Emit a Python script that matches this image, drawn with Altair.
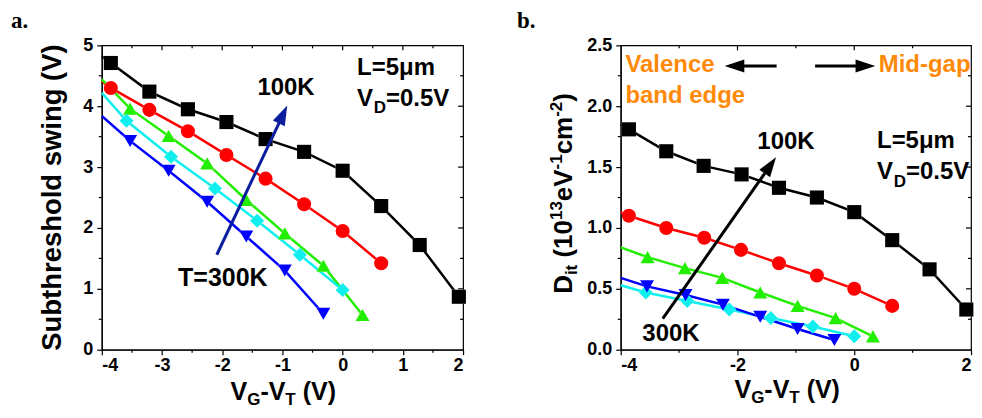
import math
import altair as alt
import pandas as pd

FONT = "Liberation Sans"

# ---------------- data ----------------
SERIES = ["square", "circle", "triangle-up", "diamond", "triangle-down"]
COLORS = ["#000000", "#FF0000", "#22EE00", "#11EEEE", "#0000FF"]

# panel a: subthreshold swing (V) vs VG-VT (V)
a_x_sq = [-3.85, -3.21, -2.57, -1.93, -1.28, -0.64, 0.0, 0.64, 1.28, 1.93]
a_y_sq = [4.71, 4.24, 3.95, 3.74, 3.46, 3.25, 2.94, 2.36, 1.72, 0.87]
a_x_ci = [-3.85, -3.21, -2.57, -1.93, -1.28, -0.64, 0.0, 0.64]
a_y_ci = [4.30, 3.94, 3.59, 3.20, 2.81, 2.39, 1.95, 1.42]
a_x_tu = [-3.53, -2.89, -2.25, -1.60, -0.96, -0.32, 0.33]
a_y_tu = [3.96, 3.51, 3.06, 2.46, 1.91, 1.38, 0.57]
a_x_di = [-3.59, -2.85, -2.12, -1.42, -0.71, 0.0]
a_y_di = [3.76, 3.17, 2.65, 2.12, 1.56, 0.98]
a_x_td = [-3.53, -2.89, -2.25, -1.60, -0.96, -0.32]
a_y_td = [3.43, 2.94, 2.43, 1.86, 1.30, 0.59]
a_edge = [4.82, 4.41, 4.44, 4.22, 3.84]  # where each line meets x=-4

# panel b: Dit (1e13 eV-1 cm-2) vs VG-VT (V)
b_x_sq = [-3.86, -3.22, -2.58, -1.93, -1.29, -0.64, 0.0, 0.65, 1.29, 1.92]
b_y_sq = [1.81, 1.63, 1.51, 1.44, 1.33, 1.25, 1.13, 0.90, 0.66, 0.33]
b_x_ci = [-3.86, -3.22, -2.57, -1.94, -1.29, -0.64, 0.0, 0.65]
b_y_ci = [1.10, 1.00, 0.92, 0.82, 0.71, 0.61, 0.50, 0.36]
b_x_tu = [-3.54, -2.90, -2.26, -1.61, -0.97, -0.32, 0.32]
b_y_tu = [0.76, 0.67, 0.59, 0.47, 0.36, 0.26, 0.11]
b_x_di = [-3.57, -2.86, -2.14, -1.43, -0.71, 0.0]
b_y_di = [0.47, 0.40, 0.33, 0.26, 0.19, 0.11]
b_x_td = [-3.55, -2.89, -2.25, -1.61, -0.97, -0.34]
b_y_td = [0.52, 0.45, 0.37, 0.27, 0.17, 0.08]
b_edge = [1.85, 1.13, 0.84, 0.53, 0.59]

# ticks
a_x_major = [-4, -3, -2, -1, 0, 1, 2]
a_x_minor = [-3.5, -2.5, -1.5, -0.5, 0.5, 1.5]
a_y_major = [0, 1, 2, 3, 4, 5]
a_y_minor = [0.5, 1.5, 2.5, 3.5, 4.5]
b_x_major = [-4, -2, 0, 2]
b_x_minor = [-3, -1, 1]
b_y_major = [0.0, 0.5, 1.0, 1.5, 2.0, 2.5]
b_y_minor = [0.25, 0.75, 1.25, 1.75, 2.25]

SIZES = [105, 110, 190, 140, 190]
HALOS = [200, 195, 330, 300, 330]
ARROW_PATH = "M0,0L0.6,1.8L-0.6,1.8Z"
ONE = pd.DataFrame({"k": [0]})


def frames(xs, ys, edge):
    pts, lines = [], []
    for i, s in enumerate(SERIES):
        lines.append({"s": s, "x": -4.0, "y": edge[i], "o": 0})
        for j, (x, y) in enumerate(zip(xs[i], ys[i])):
            pts.append({"s": s, "x": x, "y": y})
            lines.append({"s": s, "x": x, "y": y, "o": j + 1})
    return pd.DataFrame(pts), pd.DataFrame(lines)


def ptext(s, x, y, size=24, angle=0, align="left", baseline="alphabetic",
          color="black", font=FONT):
    kw = dict(text=s, fontSize=size, font=font, fontWeight="bold", color=color,
              align=align, baseline=baseline)
    if angle:
        kw["angle"] = angle
    return alt.Chart(ONE).mark_text(**kw).encode(x=alt.value(x), y=alt.value(y))


def dtext(s, x, y, X, Y, size=24, align="left", color="black", dx=0, dy=0):
    kw = dict(text=s, fontSize=size, font=FONT, fontWeight="bold", color=color,
              align=align, baseline="alphabetic")
    if dx:
        kw["dx"] = dx
    if dy:
        kw["dy"] = dy
    return alt.Chart(pd.DataFrame({"x": [x], "y": [y]})).mark_text(**kw).encode(x=X, y=Y)


def anchor(x, y):
    # invisible point that fixes the top-left corner of the drawing
    return alt.Chart(ONE).mark_rule(color="white", opacity=0, strokeWidth=0).encode(
        x=alt.value(x), x2=alt.value(x), y=alt.value(y), y2=alt.value(y))


def arrow(tail, tip, X, Y, pxx, pxy, color, width=3):
    ang = math.degrees(math.atan2((tip[0] - tail[0]) * pxx, (tip[1] - tail[1]) * pxy)) % 360
    f = 0.9
    end = (tail[0] + f * (tip[0] - tail[0]), tail[1] + f * (tip[1] - tail[1]))
    line = alt.Chart(pd.DataFrame({"x": [tail[0]], "y": [tail[1]], "x2": [end[0]], "y2": [end[1]]})) \
        .mark_rule(color=color, strokeWidth=width).encode(x=X, y=Y, x2="x2:Q", y2="y2:Q")
    head = alt.Chart(pd.DataFrame({"x": [tip[0]], "y": [tip[1]]})) \
        .mark_point(shape=ARROW_PATH, filled=True, opacity=1, color=color, size=480,
                    angle=ang, strokeWidth=0).encode(x=X, y=Y)
    return [line, head]


def panel(xs, ys, edge, W, H, xdom, ydom, xmaj, xmin, ymaj, ymin, yfmt):
    X = alt.X("x:Q", scale=alt.Scale(domain=xdom, nice=False, zero=False),
              axis=alt.Axis(values=xmaj, title=None, grid=False, tickSize=5, labelPadding=2,
                            labelExpr="datum.value < 0 ? '-' + abs(datum.value) : '' + datum.value"))
    Y = alt.Y("y:Q", scale=alt.Scale(domain=ydom, nice=False, zero=False),
              axis=alt.Axis(values=ymaj, title=None, grid=False, tickSize=5, labelPadding=4,
                            format=yfmt))
    pts, lines = frames(xs, ys, edge)
    cscale = alt.Scale(domain=SERIES, range=COLORS)
    layers = []
    layers.append(alt.Chart(pd.DataFrame({"x": xmin})).mark_rule(color="black", strokeWidth=1.2)
                  .encode(x=X, y=alt.value(H), y2=alt.value(H + 3)))
    layers.append(alt.Chart(pd.DataFrame({"y": ymin})).mark_rule(color="black", strokeWidth=1.2)
                  .encode(y=Y, x=alt.value(0), x2=alt.value(-3)))
    layers.append(alt.Chart(pd.DataFrame({"x": xmaj[1:-1]})).mark_rule(color="black", strokeWidth=1.2)
                  .encode(x=X, y=alt.value(0), y2=alt.value(5)))
    layers.append(alt.Chart(pd.DataFrame({"x": xmin})).mark_rule(color="black", strokeWidth=1.2)
                  .encode(x=X, y=alt.value(0), y2=alt.value(3)))
    layers.append(alt.Chart(pd.DataFrame({"y": ymaj[1:-1]})).mark_rule(color="black", strokeWidth=1.2)
                  .encode(y=Y, x=alt.value(W), x2=alt.value(W - 5)))
    layers.append(alt.Chart(pd.DataFrame({"y": ymin})).mark_rule(color="black", strokeWidth=1.2)
                  .encode(y=Y, x=alt.value(W), x2=alt.value(W - 3)))
    layers.append(alt.Chart(lines).mark_line(strokeWidth=2.5).encode(
        x=X, y=Y, color=alt.Color("s:N", scale=cscale, legend=None),
        detail="s:N", order="o:Q"))
    layers.append(alt.Chart(pts).mark_point(filled=True, opacity=1, color="white", strokeWidth=0).encode(
        x=X, y=Y,
        shape=alt.Shape("s:N", scale=alt.Scale(domain=SERIES, range=SERIES), legend=None),
        size=alt.Size("s:N", scale=alt.Scale(domain=SERIES, range=HALOS), legend=None)))
    layers.append(alt.Chart(pts).mark_point(filled=True, opacity=1, strokeWidth=0).encode(
        x=X, y=Y,
        color=alt.Color("s:N", scale=cscale, legend=None),
        shape=alt.Shape("s:N", scale=alt.Scale(domain=SERIES, range=SERIES), legend=None),
        size=alt.Size("s:N", scale=alt.Scale(domain=SERIES, range=SIZES), legend=None)))
    return X, Y, layers


def xtitle(x0, base):
    return [
        ptext("V", x0, base, 25),
        ptext("G", x0 + 16.7, base + 5.5, 17),
        ptext("-V", x0 + 29.9, base, 25),
        ptext("T", x0 + 54.9, base + 5.5, 17),
        ptext("(V)", x0 + 72.3, base, 25),
    ]


# ---------------- panel a ----------------
WA, HA = 362, 305
XA, YA, la = panel([a_x_sq, a_x_ci, a_x_tu, a_x_di, a_x_td],
                   [a_y_sq, a_y_ci, a_y_tu, a_y_di, a_y_td], a_edge,
                   WA, HA, [-4, 2], [0, 5], a_x_major, a_x_minor, a_y_major, a_y_minor, "d")
NAVY = "#0A1E9E"
la += arrow((-2.09, 1.56), (-0.92, 4.01), XA, YA, WA / 6, HA / 5, NAVY)
la += [
    dtext("100K", -0.94, 4.19, XA, YA, align="center"),
    dtext("T=300K", -1.99, 1.04, XA, YA, align="center", size=25),
    dtext("L=5\u03bcm", 0.24, 4.52, XA, YA),
    dtext("V", 0.24, 4.0, XA, YA),
    dtext("D", 0.24, 4.0, XA, YA, size=17, dx=16.7, dy=7),
    dtext("=0.5V", 0.24, 4.0, XA, YA, dx=29),
    ptext("Subthreshold swing (V)", -48.5, HA / 2, 27.5, angle=270, align="center",
          baseline="middle"),
    ptext("a.", -91, -17, 23, font="Liberation Serif"),
    anchor(-93, -36),
]
la += xtitle(129, 355)
panel_a = alt.layer(*la).properties(width=WA, height=HA)

# ---------------- panel b ----------------
WB, HB = 351, 305
PXB = WB / 6
XB, YB, lb = panel([b_x_sq, b_x_ci, b_x_tu, b_x_di, b_x_td],
                   [b_y_sq, b_y_ci, b_y_tu, b_y_di, b_y_td], b_edge,
                   WB, HB, [-4, 2], [0, 2.5], b_x_major, b_x_minor, b_y_major, b_y_minor, ".1f")
ORANGE = "#FF8A0A"
lb += arrow((-3.28, 0.255), (-1.34, 1.58), XB, YB, PXB, HB / 2.5, "black")
lb += arrow((-1.33, 2.33), (-2.22, 2.33), XB, YB, PXB, HB / 2.5, "black")
lb += arrow((-0.67, 2.33), (0.36, 2.33), XB, YB, PXB, HB / 2.5, "black")
lb += [
    dtext("Valence", -3.92, 2.28, XB, YB, color=ORANGE),
    dtext("band edge", -3.92, 2.03, XB, YB, color=ORANGE),
    dtext("Mid-gap", 0.42, 2.28, XB, YB, color=ORANGE),
    dtext("100K", -1.17, 1.65, XB, YB, align="center"),
    dtext("300K", -3.14, 0.07, XB, YB, align="center"),
    dtext("L=5\u03bcm", 0.39, 1.66, XB, YB),
    dtext("V", 0.39, 1.40, XB, YB),
    dtext("D", 0.39, 1.40, XB, YB, size=17, dx=16.7, dy=7.5),
    dtext("=0.5V", 0.39, 1.40, XB, YB, dx=29),
    ptext("b.", -104, -17, 23, font="Liberation Serif"),
]
lb += xtitle(114, 353)
# rotated composite y title: D_it (10^13 eV^-1 cm^-2)
MB, SUB, SUP = -49, -44, -59
ypos = 249.0
pieces = [("D", 26, MB, 0.722 * 26), ("it", 17, SUB, 0.611 * 17 + 0.278 * 26),
          ("(10", 26, MB, 1.445 * 26), ("13", 17, SUP, 1.112 * 17),
          ("eV", 26, MB, 1.223 * 26), ("-1", 17, SUP, 0.889 * 17),
          ("cm", 26, MB, 1.445 * 26), ("-2", 17, SUP, 0.889 * 17), (")", 26, MB, 0.333 * 26)]
for s, fs, bx, step in pieces:
    lb.append(ptext(s, bx, ypos, fs, angle=270))
    ypos -= step
panel_b = alt.layer(*lb).properties(width=WB, height=HB)

chart = alt.hconcat(panel_a, panel_b, spacing=158, bounds="flush").properties(
    padding={"left": 0, "top": 0, "right": 0, "bottom": 0}
).configure_view(stroke="black", strokeWidth=1.2).configure_axis(
    domainColor="black", domainWidth=1.2, tickColor="black", tickWidth=1.2,
    labelColor="black", labelFont=FONT, labelFontSize=18, labelFontWeight="bold"
)

chart.save("out.html", embed_options={"renderer": "svg", "actions": False})
